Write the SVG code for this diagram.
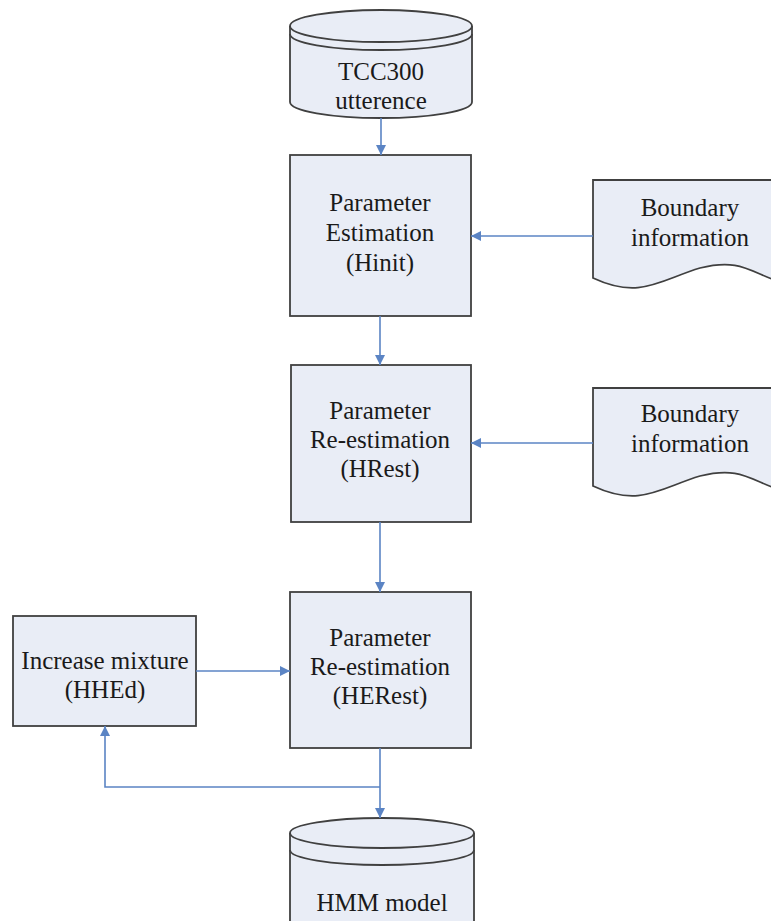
<svg xmlns="http://www.w3.org/2000/svg" width="771" height="921" viewBox="0 0 771 921">
<style>
.s{fill:#e9edf6;stroke:#404040;stroke-width:1.8}
.t{font-family:'Liberation Serif','Times New Roman',Times,serif;font-size:25px;fill:#1a1a1a;text-anchor:middle}
.c{fill:none;stroke:#5b84c4;stroke-width:1.6}
</style>
<defs>
<marker id="a" viewBox="0 0 10 10" refX="10" refY="5" markerWidth="10" markerHeight="10" markerUnits="userSpaceOnUse" orient="auto">
<path d="M0,0 L10,5 L0,10 z" fill="#5b84c4"/>
</marker>
</defs>
<rect width="771" height="921" fill="#ffffff"/>
<g id="tcc300">
<path class="s" d="M290,26 A91,16 0 0 1 472,26 L472,102 A91,16 0 0 1 290,102 Z"/>
<path d="M290,26 A91,16 0 0 0 472,26" fill="none" stroke="#404040" stroke-width="1.8"/>
<path d="M290,34 A91,16 0 0 0 472,34" fill="none" stroke="#404040" stroke-width="1.8"/>
<text class="t" x="381" y="80">TCC300</text>
<text class="t" x="381" y="109">utterence</text>
</g>
<g id="hinit">
<rect class="s" x="290" y="155" width="181" height="161"/>
<text class="t" x="380" y="211">Parameter</text>
<text class="t" x="380" y="241">Estimation</text>
<text class="t" x="380" y="271">(Hinit)</text>
</g>
<g id="boundary1">
<path class="s" d="M593,180 L780,180 L780,282 C750,272 740,258 700,268 C660,280 640,300 593,278 Z"/>
<text class="t" x="690" y="216">Boundary</text>
<text class="t" x="690" y="246">information</text>
</g>
<g id="hrest">
<rect class="s" x="291" y="365" width="180" height="157"/>
<text class="t" x="380" y="419">Parameter</text>
<text class="t" x="380" y="448">Re-estimation</text>
<text class="t" x="380" y="477">(HRest)</text>
</g>
<g id="boundary2">
<path class="s" d="M593,388 L780,388 L780,490 C750,480 740,466 700,476 C660,488 640,508 593,486 Z"/>
<text class="t" x="690" y="422">Boundary</text>
<text class="t" x="690" y="452">information</text>
</g>
<g id="herest">
<rect class="s" x="290" y="592" width="181" height="156"/>
<text class="t" x="380" y="646">Parameter</text>
<text class="t" x="380" y="675">Re-estimation</text>
<text class="t" x="380" y="704">(HERest)</text>
</g>
<g id="hhed">
<rect class="s" x="13" y="616" width="183" height="110"/>
<text class="t" x="105" y="669">Increase mixture</text>
<text class="t" x="105" y="698">(HHEd)</text>
</g>
<g id="hmm">
<path class="s" d="M290,833 A92,15 0 0 1 474,833 L474,940 L290,940 Z"/>
<path d="M290,833 A92,15 0 0 0 474,833" fill="none" stroke="#404040" stroke-width="1.8"/>
<path d="M290,850 A92,15 0 0 0 474,850" fill="none" stroke="#404040" stroke-width="1.8"/>
<text class="t" x="382" y="911">HMM model</text>
</g>
<g id="connectors">
<path class="c" d="M381,118 L381,155" marker-end="url(#a)"/>
<path class="c" d="M593,236 L471,236" marker-end="url(#a)"/>
<path class="c" d="M380,316 L380,365" marker-end="url(#a)"/>
<path class="c" d="M593,443 L471,443" marker-end="url(#a)"/>
<path class="c" d="M380,522 L380,592" marker-end="url(#a)"/>
<path class="c" d="M196,671 L290,671" marker-end="url(#a)"/>
<path class="c" d="M380,748 L380,818" marker-end="url(#a)"/>
<path class="c" d="M380,787 L105,787 L105,726" marker-end="url(#a)"/>
</g>
</svg>
